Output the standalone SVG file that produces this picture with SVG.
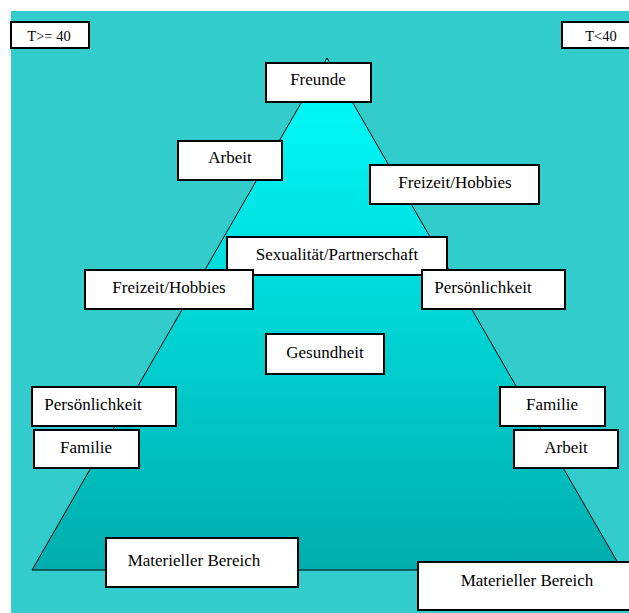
<svg xmlns="http://www.w3.org/2000/svg" width="629" height="613" viewBox="0 0 629 613">
<style>
.box{fill:#fff;stroke:#000;stroke-width:2}
.t{font-family:"Liberation Serif","Times New Roman",serif;font-size:17px;fill:#000;text-anchor:middle}
.s{font-size:14.5px}
</style>
<defs>
<linearGradient id="g" x1="0" y1="58" x2="0" y2="570" gradientUnits="userSpaceOnUse">
<stop offset="0" stop-color="#00FFFF"/>
<stop offset="1" stop-color="#00ADAD"/>
</linearGradient>
</defs>
<rect x="11" y="11" width="618" height="602" fill="#33CCCC"/>
<polygon points="327,58 32,570 622,570" fill="url(#g)" stroke="#000" stroke-width="1"/>
<g id="t-ge-40"><rect class="box" x="11" y="22" width="78" height="26"/><text class="t s" x="49" y="41">T&gt;= 40</text></g>
<g id="t-lt-40"><rect class="box" x="562" y="22" width="78" height="26"/><text class="t s" x="601" y="41">T&lt;40</text></g>
<g id="freunde"><rect class="box" x="266" y="63" width="105" height="39"/><text class="t" x="318" y="85">Freunde</text></g>
<g id="arbeit-l"><rect class="box" x="178" y="141" width="104" height="39"/><text class="t" x="230" y="163">Arbeit</text></g>
<g id="freizeit-r"><rect class="box" x="370" y="165" width="169" height="39"/><text class="t" x="455" y="188">Freizeit/Hobbies</text></g>
<g id="sexualitaet"><rect class="box" x="227" y="237" width="220" height="38"/><text class="t" x="337" y="260">Sexualität/Partnerschaft</text></g>
<g id="freizeit-l"><rect class="box" x="85" y="270" width="168" height="39"/><text class="t" x="169" y="293">Freizeit/Hobbies</text></g>
<g id="persoenlichkeit-r"><rect class="box" x="422" y="270" width="143" height="39"/><text class="t" x="483" y="293">Persönlichkeit</text></g>
<g id="gesundheit"><rect class="box" x="266" y="334" width="118" height="40"/><text class="t" x="325" y="358">Gesundheit</text></g>
<g id="persoenlichkeit-l"><rect class="box" x="32" y="387" width="144" height="39"/><text class="t" x="93" y="410">Persönlichkeit</text></g>
<g id="familie-l"><rect class="box" x="34" y="430" width="105" height="38"/><text class="t" x="86" y="453">Familie</text></g>
<g id="familie-r"><rect class="box" x="500" y="387" width="105" height="39"/><text class="t" x="552" y="410">Familie</text></g>
<g id="arbeit-r"><rect class="box" x="514" y="430" width="104" height="38"/><text class="t" x="566" y="453">Arbeit</text></g>
<g id="materiell-l"><rect class="box" x="106" y="538" width="192" height="49"/><text class="t" x="194" y="566">Materieller Bereich</text></g>
<g id="materiell-r"><rect class="box" x="418" y="562" width="220" height="48"/><text class="t" x="527" y="586">Materieller Bereich</text></g>
</svg>
